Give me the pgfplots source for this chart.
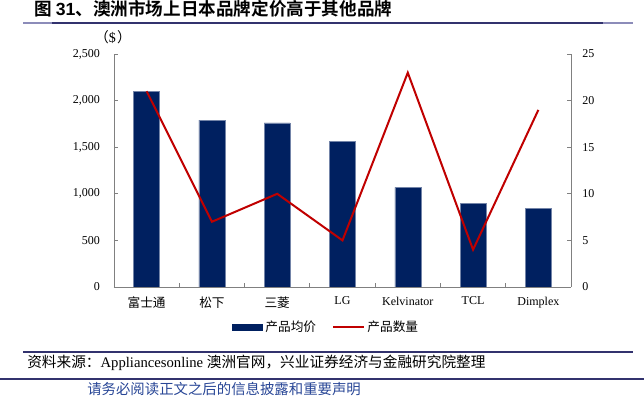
\documentclass[border=0pt]{standalone}
\usepackage{pgfplots}
\usepackage{pgfplotstable}
\pgfplotsset{compat=1.18}
\usepackage{fontspec}
\setmainfont{Liberation Serif}
\newfontfamily\cjk[BoldFont={Noto Sans CJK SC Bold}]{Noto Sans CJK SC}
\newfontfamily\arial{Liberation Sans}
\definecolor{navy}{RGB}{0,32,96}
\definecolor{barred}{RGB}{192,0,0}
\definecolor{rulec}{RGB}{50,50,110}
\definecolor{rulel}{RGB}{140,140,185}
\definecolor{foot}{RGB}{40,70,150}
\definecolor{axgray}{RGB}{128,128,128}

\pgfplotstableread{
x price count
0 2100 21
1 1790 7
2 1760 10
3 1560 5
4 1070 23
5 900 4
6 840 19
}\datatable

\begin{document}
\begin{tikzpicture}[x=0.75pt,y=0.75pt]
\path[use as bounding box] (0,0) rectangle (644,397);

% title
\node[anchor=west,inner sep=0pt] at (34,388) {\cjk\bfseries\fontsize{13.2}{15}\selectfont 图\kern3pt {\arial\bfseries 31}、澳洲市场上日本品牌定价高于其他品牌};
\draw[rulec,line width=1.5pt] (23,373.5)--(633,373.5);
\draw[rulel,line width=1.5pt] (23,373.5)--(52,373.5);
\draw[rulel,line width=1.5pt] (603,373.5)--(633,373.5);

% unit
\node[inner sep=0pt] at (113,360) {\fontsize{10.5}{11}\selectfont{\cjk （}\$\kern1pt{\cjk ）}};

\begin{axis}[
  at={(85.5pt,82.5pt)}, anchor=south west, scale only axis,
  width=342.75pt, height=174.75pt,
  xmin=-0.5, xmax=6.5, ymin=0, ymax=2500,
  axis x line*=bottom, axis y line*=left,
  axis line style={axgray, line width=0.6pt},
  tick style={axgray, line width=0.6pt},
  tick align=inside, major tick length=3pt,
  xtick={-0.5,0.5,...,6.5}, xticklabels={},
  extra x ticks={0,1,2,3,4,5,6},
  extra x tick labels={{\cjk\fontsize{9.5}{10}\selectfont 富士通},{\cjk\fontsize{9.5}{10}\selectfont 松下},{\cjk\fontsize{9.5}{10}\selectfont 三菱},LG,Kelvinator,TCL,Dimplex},
  extra x tick style={major tick length=0pt, xticklabel style={yshift=-4pt}},
  ytick={0,500,1000,1500,2000,2500},
  /pgf/number format/.cd, assume math mode=true, 1000 sep={,}, fixed,
  /pgfplots/.cd,
  yticklabel style={xshift=-7pt},
  tick label style={font=\fontsize{9}{10}\selectfont},
]
\addplot[ybar, bar width=19.5pt, fill=navy, draw=navy!55!white, line width=0.4pt]
  table[x=x,y=price]{\datatable};
\end{axis}

\begin{axis}[
  at={(85.5pt,82.5pt)}, anchor=south west, scale only axis,
  width=342.75pt, height=174.75pt,
  xmin=-0.5, xmax=6.5, ymin=0, ymax=25,
  axis x line=none, axis y line*=right,
  axis line style={axgray, line width=0.6pt},
  tick style={axgray, line width=0.6pt},
  tick align=inside, major tick length=3pt,
  ytick={0,5,10,15,20,25},
  /pgf/number format/assume math mode=true,
  yticklabel style={xshift=5pt},
  tick label style={font=\fontsize{9}{10}\selectfont},
  legend columns=2,
  legend style={at={(0.465,-0.172)}, anchor=center, draw=none, fill=none,
    font=\cjk\fontsize{9.5}{10}\selectfont,
    /tikz/every even column/.append style={column sep=10pt}},
]
\addlegendimage{legend image code/.code={\fill[navy] (0pt,-2.25pt) rectangle (22.5pt,2.25pt);}}
\addlegendentry{产品均价}
\addplot[barred, line width=1.5pt, mark=none,
  legend image code/.code={\draw[barred,line width=1.5pt] (0pt,0pt)--(23pt,0pt);}]
  table[x=x,y=count]{\datatable};
\addlegendentry{产品数量}
\end{axis}

% source
\draw[rulec,line width=1.1pt] (23,45)--(633,45);
\node[anchor=west,inner sep=0pt] at (27,34.5) {\fontsize{11}{12}\selectfont{\cjk 资料来源：}Appliancesonline {\cjk 澳洲官网，兴业证券经济与金融研究院整理}};
\draw[rulec,line width=1.5pt] (0,18)--(644,18);
\node[anchor=west,inner sep=0pt] at (87,8) {\cjk\color{foot}\fontsize{10.8}{12}\selectfont 请务必阅读正文之后的信息披露和重要声明};
\end{tikzpicture}
\end{document}
